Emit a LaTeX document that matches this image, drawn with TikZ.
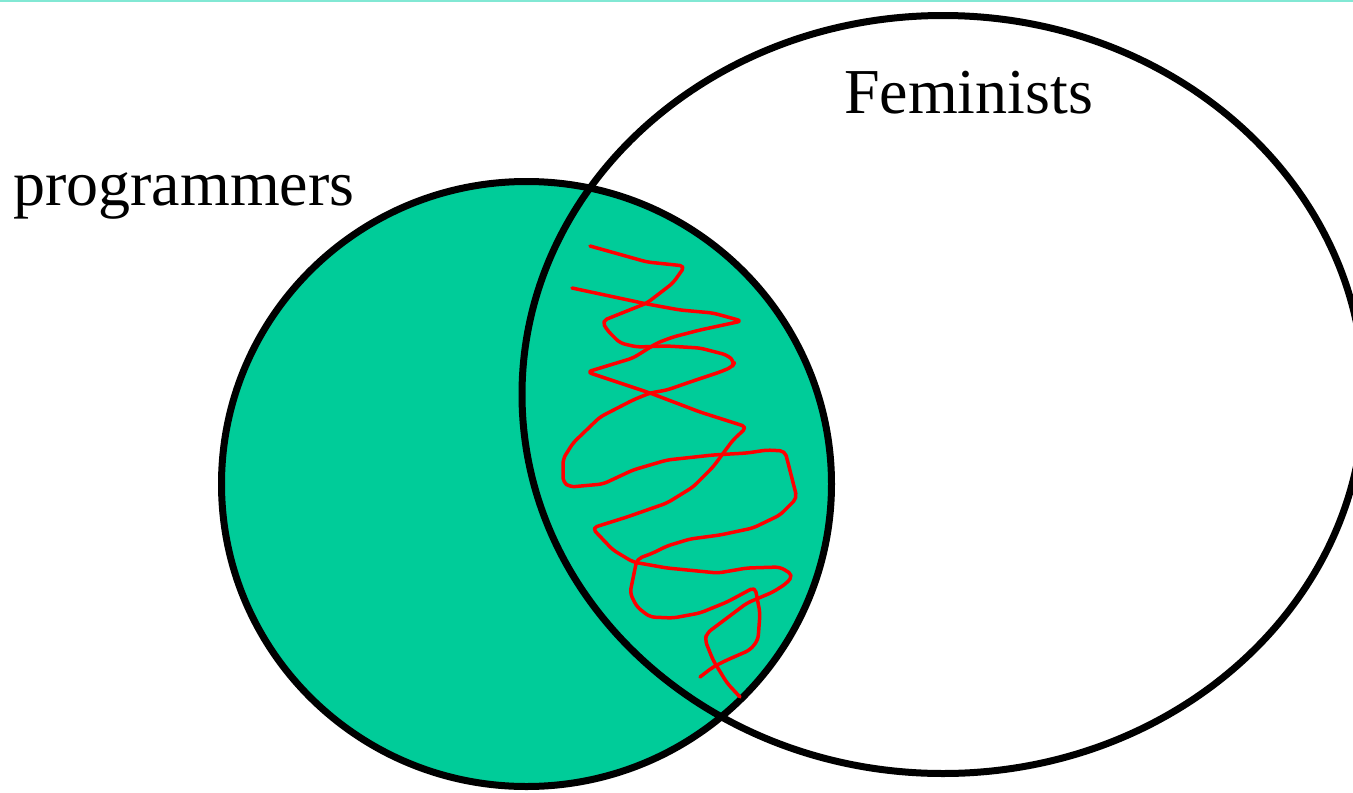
\documentclass[tikz,border=0pt]{standalone}
\usepackage{fontspec}
\setmainfont{Liberation Serif}
\usepackage{tikz}
\definecolor{setgreen}{RGB}{0,204,153}
\definecolor{rimcyan}{RGB}{130,232,212}

\begin{document}
\begin{tikzpicture}[x=1pt,y=-1pt,
    rim/.style={line width=7pt,black},
    scribble/.style={line width=3.5pt,red,line join=round,line cap=round,rounded corners=5pt},
    setlabel/.style={inner sep=0pt,anchor=base west,font=\fontsize{64}{70}\selectfont}]
                \useasboundingbox (0,0) rectangle (1353,793);
                \draw[rimcyan,line width=2pt] (0,1) -- (1353,1);
                \fill[setgreen] (526.5,484) ellipse [x radius=305,y radius=302.5];
                \begin{scope}
                \clip (0,0) rectangle (1353,793);
                \draw[rim] (943,394.5) ellipse [x radius=421,y radius=379];
                \end{scope}
                \draw[rim] (526.5,484) ellipse [x radius=305,y radius=302.5];
                % the two pen strokes
                \draw[scribble] (590,246) -- (647,262) -- (685,266) -- (673,283) -- (647,303)
                    -- (602,321) -- (607,330) -- (620,343) -- (637,347) -- (667,346) -- (700,348)
                    -- (727,355) -- (735,362) -- (732,367) -- (720,372) -- (690,382) -- (667,390)
                    -- (650,393) -- (633,400) -- (600,417) -- (573,443) -- (563,459) -- (563,482)
                    -- (570,487) -- (603,484) -- (633,470) -- (667,460) -- (713,455) -- (747,453)
                    -- (767,450) -- (785,451) -- (797,498) -- (780,515) -- (753,528) -- (720,535)
                    -- (690,539) -- (667,546) -- (653,553) -- (637,559) -- (630,593) -- (637,607)
                    -- (650,617) -- (673,618) -- (700,613) -- (727,602) -- (755,587) -- (760,613)
                    -- (758,640) -- (750,650) -- (727,660) -- (713,667) -- (700,677);
                \draw[scribble] (572,288) -- (647,304) -- (680,310) -- (713,313) -- (742,321)
                    -- (700,330) -- (673,337) -- (657,343) -- (633,358) -- (587,372) -- (650,393)
                    -- (700,412) -- (747,427) -- (733,440) -- (713,467) -- (693,487) -- (667,503)
                    -- (627,517) -- (592,528) -- (613,550) -- (633,562) -- (667,568) -- (718,573)
                    -- (747,568) -- (780,567) -- (793,575) -- (787,583) -- (773,592) -- (747,603)
                    -- (727,618) -- (707,633) -- (705,640) -- (713,660) -- (727,683) -- (740,697);
                \node[setlabel] (prog) at (13,205) {programmers};
                \node[setlabel] (fem) at (844,113) {Feminists};
            \end{tikzpicture}
\end{document}
